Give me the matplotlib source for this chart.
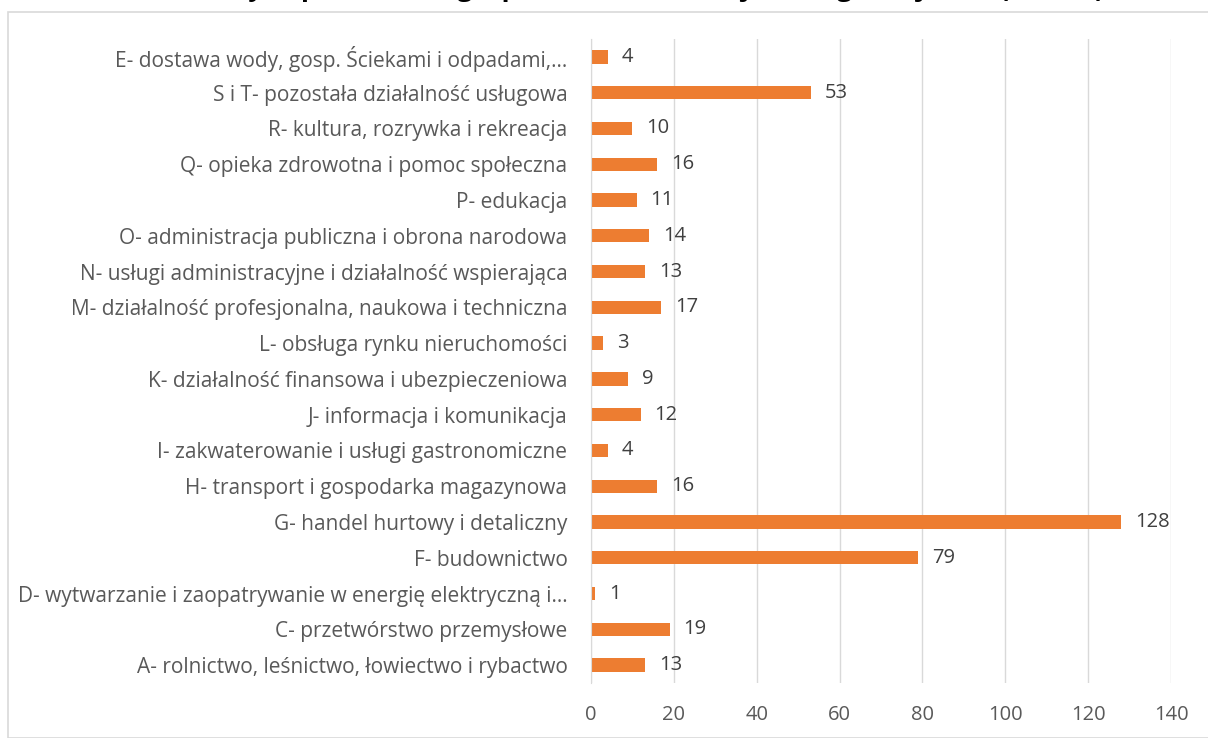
import matplotlib
matplotlib.use("Agg")
import matplotlib.pyplot as plt
from matplotlib.patches import Rectangle

plt.rcParams['font.family'] = ['Open Sans', 'DejaVu Sans']

categories = [
    "A- rolnictwo, leśnictwo, łowiectwo i rybactwo",
    "C- przetwórstwo przemysłowe",
    "D- wytwarzanie i zaopatrywanie w energię elektryczną i…",
    "F- budownictwo",
    "G- handel hurtowy i detaliczny",
    "H- transport i gospodarka magazynowa",
    "I- zakwaterowanie i usługi gastronomiczne",
    "J- informacja i komunikacja",
    "K- działalność finansowa i ubezpieczeniowa",
    "L- obsługa rynku nieruchomości",
    "M- działalność profesjonalna, naukowa i techniczna",
    "N- usługi administracyjne i działalność wspierająca",
    "O- administracja publiczna i obrona narodowa",
    "P- edukacja",
    "Q- opieka zdrowotna i pomoc społeczna",
    "R- kultura, rozrywka i rekreacja",
    "S i T- pozostała działalność usługowa",
    "E- dostawa wody, gosp. Ściekami i odpadami,…",
]
values = [13, 19, 1, 79, 128, 16, 4, 12, 9, 3, 17, 13, 14, 11, 16, 10, 53, 4]
x_ticks = [0, 20, 40, 60, 80, 100, 120, 140]

title = "Liczba nowych podmiotów gospodarki narodowej według sekcji PKD (2019 r.)"

fig = plt.figure(figsize=(12.08, 7.38), dpi=100)
ax = fig.add_axes([591 / 1208, 55 / 738, 580 / 1208, 644 / 738])

# chart frame like the Excel chart area
fig.patches.append(Rectangle((8 / 1208, 0), 1.0, 1 - 12 / 738, transform=fig.transFigure,
                             fill=False, edgecolor='#d9d9d9', linewidth=1.2))

bars = ax.barh(range(len(categories)), values, height=0.37, color='#ED7D31')

ax.set_xlim(0, 140)
ax.set_ylim(-0.5, len(categories) - 0.5)
ax.set_xticks(x_ticks)
ax.set_yticks(range(len(categories)))
ax.set_yticklabels(categories)

for spine in ['top', 'right', 'bottom']:
    ax.spines[spine].set_visible(False)
ax.spines['left'].set_color('#d9d9d9')

ax.grid(axis='x', color='#d9d9d9', linewidth=1)
ax.set_axisbelow(True)
ax.tick_params(axis='y', length=0, labelsize=15, colors='#595959', pad=17)
ax.tick_params(axis='x', length=0, labelsize=14.5, colors='#595959', pad=16)

for bar, v in zip(bars, values):
    ax.annotate(str(v), xy=(bar.get_width(), bar.get_y() + bar.get_height() / 2),
                xytext=(10, 0), textcoords="offset points",
                ha='left', va='center', fontsize=14.5, color='#404040')

# title sits mostly above the top edge, as in the reference
fig.text(0.5, 1 + 4 / 738, title, ha='center', va='baseline', fontsize=19, fontweight='bold', color='black')

fig.savefig('out.png', dpi=100)
